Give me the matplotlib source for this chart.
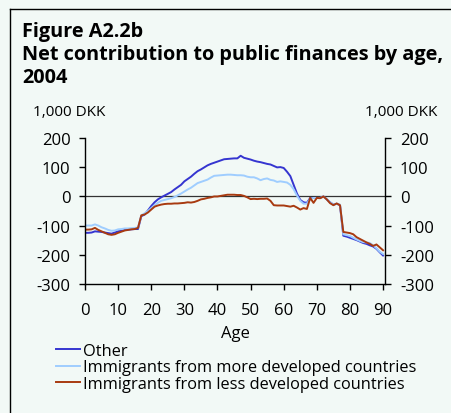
import matplotlib
matplotlib.use("Agg")
import matplotlib.pyplot as plt
from matplotlib.lines import Line2D

ages = list(range(0, 91))

other = [-125, -125, -124, -120, -121, -122, -124, -126, -128, -124,
         -120, -118, -115, -114, -113, -112, -112, -68, -62, -48,
         -33, -20, -10, -3, 3, 9, 15, 24, 32, 40,
         52, 60, 68, 78, 87, 93, 100, 107, 112, 116,
         120, 124, 128, 129, 130, 131, 131, 140, 133, 130,
         127, 123, 120, 118, 115, 112, 110, 105, 100, 101,
         98, 85, 70, 40, 10, -12, -20, -22, -5, -5,
         -5, -5, 0, -10, -20, -28, -25, -30, -135, -138,
         -142, -146, -150, -155, -160, -163, -168, -172, -180, -192,
         -203]

more_dev = [-100, -100, -100, -96, -100, -106, -110, -115, -118, -117,
            -113, -112, -110, -110, -109, -108, -107, -65, -58, -50,
            -40, -30, -22, -15, -12, -9, -6, -2, 4, 10,
            17, 24, 30, 38, 46, 50, 54, 58, 65, 71,
            72, 73, 74, 75, 75, 74, 73, 73, 72, 68,
            66, 66, 62, 56, 60, 62, 57, 55, 50, 52,
            50, 48, 40, 25, 3, -15, -25, -25, -8, -5,
            -5, -5, 0, -10, -20, -28, -25, -28, -130, -133,
            -136, -142, -148, -153, -157, -158, -160, -168, -178, -190,
            -198]

less_dev = [-114, -114, -113, -108, -115, -120, -125, -130, -132, -130,
            -125, -121, -117, -115, -113, -112, -108, -65, -62, -55,
            -45, -35, -31, -28, -26, -25, -25, -24, -24, -23,
            -22, -20, -21, -19, -15, -10, -8, -5, -3, 0,
            0, 2, 4, 6, 6, 6, 5, 5, 2, -3,
            -9, -8, -9, -8, -8, -7, -15, -30, -31, -31,
            -31, -33, -35, -32, -38, -45, -40, -43, -5, -22,
            -5, -6, 0, -10, -23, -30, -24, -30, -122, -124,
            -126, -130, -140, -146, -152, -158, -163, -170, -165, -175,
            -185]

labels = ["Other", "Immigrants from more developed countries",
          "Immigrants from less developed countries"]
colors = ["#3535d0", "#9fcdff", "#a83a10"]
xticks = [0, 10, 20, 30, 40, 50, 60, 70, 80, 90]
yticks = [-300, -200, -100, 0, 100, 200]

bg = "#f2f9f6"
plt.rcParams["font.family"] = ["Open Sans", "DejaVu Sans"]
plt.rcParams["axes.unicode_minus"] = False

fig = plt.figure(figsize=(4.51, 4.14), dpi=100, facecolor=bg)
ax = fig.add_axes([0.1885, 0.3123, 0.666, 0.3512], facecolor=bg)

ax.axhline(0, color="#333333", lw=0.9, zorder=1)
for series, col, lab in zip([other, more_dev, less_dev], colors, labels):
    ax.plot(ages, series, color=col, lw=1.4, label=lab, zorder=2)

ax.set_xlim(0, 90.7)
ax.set_ylim(-300, 200)
ax.set_xticks(xticks)
ax.set_yticks(yticks)
ax.spines["top"].set_visible(False)
for s in ["left", "right", "bottom"]:
    ax.spines[s].set_linewidth(1.0)
ax.tick_params(axis="both", direction="out", length=4.5, width=1.0,
               labelsize=12, pad=6)
ax.tick_params(axis="x", pad=9)
ax.tick_params(axis="y", right=True, labelright=True)
ax.set_xlabel("Age", fontsize=12, labelpad=5)

fig.text(33 / 451, 1 - 113 / 414, "1,000 DKK", fontsize=11, va="center")
fig.text(437 / 451, 1 - 113 / 414, "1,000 DKK", fontsize=11,
         va="center", ha="right")

fig.text(22 / 451, 1 - 37 / 414, "Figure A2.2b", fontsize=14.3,
         fontweight="bold", va="baseline")
fig.text(22 / 451, 1 - 60 / 414,
         "Net contribution to public finances by age,", fontsize=14.3,
         fontweight="bold", va="baseline")
fig.text(22 / 451, 1 - 83 / 414, "2004", fontsize=14.3,
         fontweight="bold", va="baseline")

handles = [Line2D([], [], color=c, lw=1.4) for c in colors]
fig.legend(handles, labels, loc="upper left",
           bbox_to_anchor=(56 / 451, 1 - 344 / 414), frameon=False,
           fontsize=11.8, handlelength=1.45, handletextpad=0.2,
           labelspacing=0.03, borderpad=0, borderaxespad=0)

fig.add_artist(Line2D([10 / 451, 1], [1 - 10 / 414, 1 - 10 / 414],
                      color="black", lw=1.0, transform=fig.transFigure))
fig.add_artist(Line2D([10 / 451, 10 / 451], [0, 1 - 10 / 414],
                      color="black", lw=1.0, transform=fig.transFigure))

fig.savefig("out.png", dpi=100, facecolor=bg)
